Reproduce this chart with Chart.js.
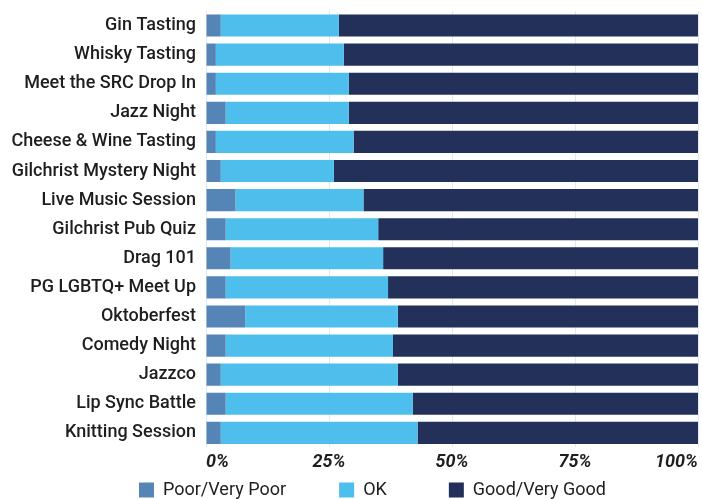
<!DOCTYPE html>
<html lang="en">
<head>
  <meta charset="UTF-8" />
  <title>Event Ratings</title>
  <script src="https://cdn.jsdelivr.net/npm/chart.js"></script>
  <style>
    html, body { margin: 0; padding: 0; background: #fff; }
    #wrap { width: 702px; height: 499px; }
  </style>
</head>
<body>
  <div id="wrap"><canvas id="ratingChart"></canvas></div>
  <script>
    // Events, top to bottom
    const events = [
      'Gin Tasting', 'Whisky Tasting', 'Meet the SRC Drop In', 'Jazz Night',
      'Cheese & Wine Tasting', 'Gilchrist Mystery Night', 'Live Music Session',
      'Gilchrist Pub Quiz', 'Drag 101', 'PG LGBTQ+ Meet Up', 'Oktoberfest',
      'Comedy Night', 'Jazzco', 'Lip Sync Battle', 'Knitting Session'
    ];
    // Share of responses (%)
    const poor = [3, 2, 2, 4, 2, 3, 6, 4, 5, 4, 8, 4, 3, 4, 3];
    const ok   = [24, 26, 27, 25, 28, 23, 26, 31, 31, 33, 31, 34, 36, 38, 40];
    const good = [73, 72, 71, 71, 70, 74, 68, 65, 64, 63, 61, 62, 61, 58, 57];
    const xTicks = [0, 25, 50, 75, 100];

    const textColor = '#1e1e1e';

    // nudge the legend a bit right, like the original
    const legendShift = {
      id: 'legendShift',
      afterLayout(chart) {
        if (chart.legend) { chart.legend.left += 23; chart.legend.right += 23; }
      }
    };

    new Chart(document.getElementById('ratingChart'), {
      type: 'bar',
      data: {
        labels: events,
        datasets: [
          { label: 'Poor/Very Poor', data: poor, backgroundColor: '#5585b6' },
          { label: 'OK', data: ok, backgroundColor: '#4ebeec' },
          { label: 'Good/Very Good', data: good, backgroundColor: '#23305a' }
        ]
      },
      plugins: [legendShift],
      options: {
        indexAxis: 'y',
        responsive: true,
        maintainAspectRatio: false,
        animation: false,
        datasets: { bar: { categoryPercentage: 0.76, barPercentage: 1 } },
        layout: { padding: { top: 11, right: 3, left: 0, bottom: -10 } },
        scales: {
          x: {
            stacked: true,
            min: 0,
            max: 100,
            afterBuildTicks: (scale) => { scale.ticks = xTicks.map(v => ({ value: v })); },
            grid: { color: '#e3e8f0', drawTicks: false },
            border: { display: false },
            ticks: {
              align: 'inner',
              padding: 4,
              color: textColor,
              font: { family: 'Roboto', size: 18, style: 'italic', weight: 'bold' },
              callback: (v) => v + '%'
            }
          },
          y: {
            stacked: true,
            grid: { display: false, drawTicks: false },
            border: { display: false },
            afterFit: (scale) => {
              scale.width = 206;
              scale.paddingTop = 0;
              scale.paddingBottom = 0;
            },
            ticks: {
              padding: 10,
              color: textColor,
              font: { family: 'Roboto', size: 18, weight: '500' }
            }
          }
        },
        plugins: {
          legend: {
            position: 'bottom',
            labels: {
              color: textColor,
              boxWidth: 15,
              boxHeight: 15,
              padding: 4,
              font: { family: 'Roboto', size: 18 },
              generateLabels: (chart) => {
                const items = Chart.defaults.plugins.legend.labels.generateLabels(chart);
                const gaps = [' '.repeat(11), ' '.repeat(13), ''];
                items.forEach((it, i) => { it.text = it.text + gaps[i]; });
                return items;
              }
            }
          },
          tooltip: { enabled: false }
        }
      }
    });
  </script>
</body>
</html>
